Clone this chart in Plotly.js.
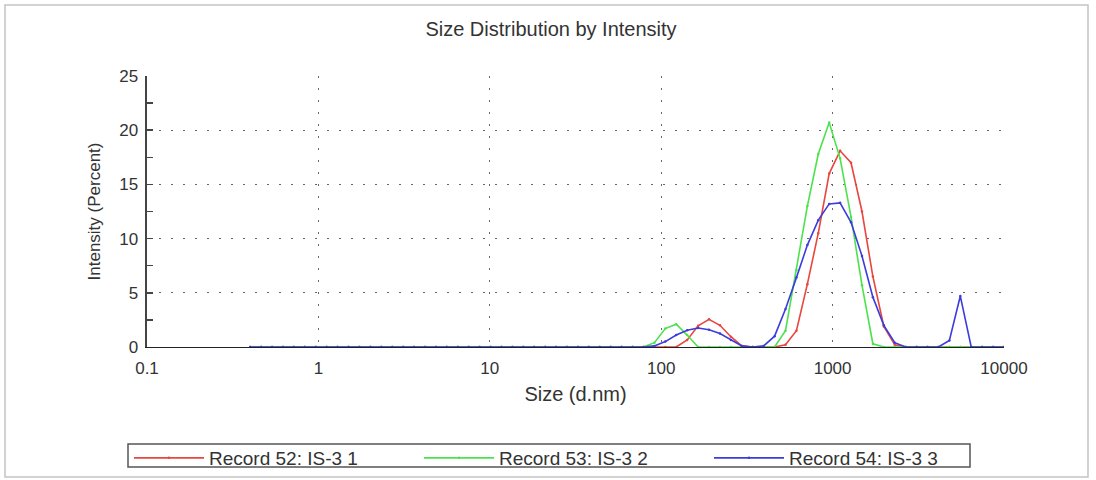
<!DOCTYPE html>
<html><head><meta charset="utf-8">
<script src="https://cdn.plot.ly/plotly-3.0.1.min.js"></script>
<style>html,body{margin:0;padding:0;background:#fff}#chart{width:1096px;height:480px}</style>
</head><body><div id="chart"></div>
<script>
// Size bins (d.nm)
const sizes = [0.4, 0.4632, 0.5365, 0.6213, 0.7195, 0.8332, 0.965, 1.117, 1.294, 1.499,
  1.736, 2.01, 2.328, 2.696, 3.122, 3.615, 4.187, 4.849, 5.615, 6.503,
  7.531, 8.721, 10.1, 11.7, 13.54, 15.69, 18.17, 21.04, 24.36, 28.21,
  32.67, 37.84, 43.82, 50.75, 58.77, 68.06, 78.82, 91.28, 105.7, 122.4,
  141.8, 164.2, 190.1, 220.2, 255, 295.3, 342, 396.1, 458.7, 531.2,
  615.1, 712.4, 825, 955.4, 1106, 1281, 1484, 1718, 1990, 2305,
  2669, 3091, 3580, 4145, 4801, 5560, 6439, 7456, 8635, 10000];

// Intensity (Percent)
const record52 = [0,0,0,0,0,0,0,0,0,0, 0,0,0,0,0,0,0,0,0,0, 0,0,0,0,0,0,0,0,0,0,
  0,0,0,0,0,0,0,0,0,0,
  0.65, 1.95, 2.55, 2.0, 0.95, 0.1, 0, 0, 0, 0.2,
  1.5, 5.8, 10.5, 16.0, 18.1, 17.0, 12.5, 6.5, 1.9, 0.2,
  0,0,0,0,0,0,0,0,0,0];
const record53 = [0,0,0,0,0,0,0,0,0,0, 0,0,0,0,0,0,0,0,0,0, 0,0,0,0,0,0,0,0,0,0,
  0,0,0,0,0,0,0,0.4,1.7,2.1,
  1.1, 0, 0, 0, 0, 0, 0, 0, 0, 1.5,
  7.1, 13.0, 17.8, 20.7, 17.4, 12.0, 5.7, 0.3, 0, 0,
  0,0,0,0,0,0,0,0,0,0];
const record54 = [0,0,0,0,0,0,0,0,0,0, 0,0,0,0,0,0,0,0,0,0, 0,0,0,0,0,0,0,0,0,0,
  0,0,0,0,0,0,0,0.1,0.5,1.1,
  1.55, 1.75, 1.6, 1.25, 0.65, 0.1, 0, 0.1, 1.0, 3.5,
  6.4, 9.4, 11.7, 13.2, 13.3, 11.5, 8.4, 4.6, 2.0, 0.4,
  0,0,0,0,0.6,4.7,0,0,0,0];

const seriesNames = ['Record 52: IS-3 1', 'Record 53: IS-3 2', 'Record 54: IS-3 3'];
const seriesValues = [record52, record53, record54];
const seriesColors = ['#e8463e', '#4ce24c', '#3c3cdc'];

const xTickVals = [0.1, 1, 10, 100, 1000, 10000];
const xTickText = ['0.1', '1', '10', '100', '1000', '10000'];
const yTickVals = [0, 5, 10, 15, 20, 25];

const FONT = '"Liberation Sans", Arial, sans-serif';

const traces = seriesNames.map((name, i) => ({
  type: 'scatter', mode: 'lines+markers', name: name,
  x: sizes, y: seriesValues[i],
  line: {color: seriesColors[i], width: 1.6},
  marker: {color: seriesColors[i], size: 2.5}
}));

// plot area in px: x 147..1004, y 76..347
const px = v => (v - 147) / 857;
const py = v => (347 - v) / 271;

const layout = {
  width: 1096, height: 480,
  margin: {l: 147, r: 92, t: 76, b: 133, autoexpand: false},
  paper_bgcolor: '#fff', plot_bgcolor: '#fff',
  font: {family: FONT, color: '#333', size: 15},
  title: {text: 'Size Distribution by Intensity', font: {family: FONT, size: 20, color: '#333'},
          x: 551/1096, xref: 'container', xanchor: 'center', y: 1 - 29/480, yref: 'container', yanchor: 'middle'},
  xaxis: {
    type: 'log', range: [-1, 4],
    tickmode: 'array', tickvals: xTickVals, ticktext: xTickText,
    ticks: '', ticklabelstandoff: 6,
    tickfont: {family: FONT, size: 17, color: '#333'},
    showgrid: true, gridcolor: '#666', gridwidth: 1.2, griddash: '2px,10px',
    showline: true, linecolor: '#222', linewidth: 1,
    zeroline: false,
    title: {text: 'Size (d.nm)', font: {family: FONT, size: 20, color: '#333'}, standoff: 9}
  },
  yaxis: {
    range: [0, 25], tickmode: 'array', tickvals: yTickVals,
    ticks: 'inside', ticklen: 6, tickwidth: 1.5, tickcolor: '#444',
    minor: {dtick: 2.5, tick0: 0, ticks: 'inside', ticklen: 6, tickwidth: 1.5, tickcolor: '#444', showgrid: false},
    ticklabelstandoff: 3,
    tickfont: {family: FONT, size: 17, color: '#333'},
    showgrid: true, gridcolor: '#666', gridwidth: 1.2, griddash: '2px,10px',
    showline: true, linecolor: '#444', linewidth: 2.5,
    zeroline: false,
    title: {text: 'Intensity (Percent)', font: {family: FONT, size: 17, color: '#333'}, standoff: 14}
  },
  showlegend: true,
  legend: {
    orientation: 'h', x: px(129), xanchor: 'left', y: py(439), yanchor: 'top',
    font: {family: FONT, size: 19, color: '#333'},
    bgcolor: 'rgba(0,0,0,0)', borderwidth: 0,
    entrywidth: 205, entrywidthmode: 'pixels', itemwidth: 70, traceorder: 'normal'
  },
  shapes: [
    {type: 'rect', xref: 'paper', yref: 'paper', x0: px(5), x1: px(1088), y0: py(477), y1: py(5),
     line: {color: '#c4c4c4', width: 1.5}, layer: 'below'},
    {type: 'rect', xref: 'paper', yref: 'paper', x0: px(128), x1: px(970), y0: py(467), y1: py(444),
     line: {color: '#555', width: 1.5}, layer: 'above'}
  ]
};

Plotly.newPlot('chart', traces, layout, {displayModeBar: false, staticPlot: true});
</script>
</body></html>
